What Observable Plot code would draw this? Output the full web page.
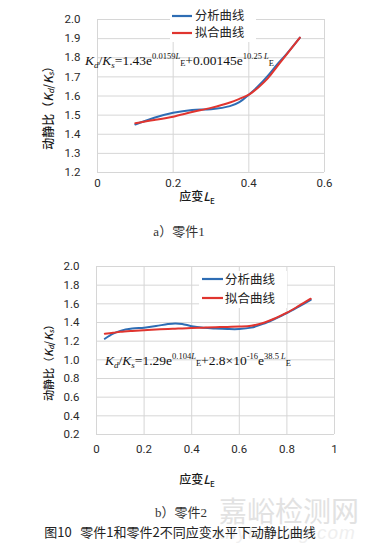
<!DOCTYPE html>
<html><head><meta charset="utf-8">
<script src="https://cdn.jsdelivr.net/npm/d3@7"></script>
<script src="https://cdn.jsdelivr.net/npm/@observablehq/plot@0.6"></script>
<style>
body{margin:0;width:371px;height:553px;position:relative;background:#fff;overflow:hidden;}
.abs{position:absolute;white-space:nowrap;}
.cap{font-family:"Liberation Serif","Noto Sans CJK SC",serif;font-size:13px;color:#333;text-align:center;line-height:16px;}
</style></head>
<body>
<div id="c1" class="abs" style="left:0;top:0"></div>
<div id="c2" class="abs" style="left:0;top:250px"></div>
<div class="abs" style="left:219px;top:492px;font-family:'Noto Sans CJK SC',sans-serif;font-size:28px;line-height:36px;color:#e2e2e2;letter-spacing:0px">嘉峪检测网</div>
<div class="abs" style="left:214px;top:522px;font-family:'Liberation Sans',sans-serif;font-style:italic;font-size:19px;line-height:22px;color:#efefef;letter-spacing:1px">anytesting.com</div>
<div class="abs cap" style="left:0;top:224px;width:358px">a）零件1</div>
<div class="abs cap" style="left:0;top:505px;width:362px">b）零件2</div>
<div class="abs" style="left:0;top:524px;width:360px;text-align:center;font-family:'Noto Sans CJK SC',sans-serif;font-size:13px;line-height:16px;color:#222">图10&nbsp;&nbsp;&nbsp;零件1和零件2不同应变水平下动静比曲线</div>
<script>
// ---------- data ----------
const seriesNames = ["分析曲线", "拟合曲线"];
const seriesColors = ["#2e6db4", "#e0352f"];

// Part 1
const strain1   = [0.1, 0.15, 0.2, 0.25, 0.3, 0.35, 0.375, 0.4, 0.425, 0.45, 0.475, 0.5, 0.535];
const analysis1 = [1.451, 1.486, 1.512, 1.527, 1.531, 1.547, 1.568, 1.607, 1.652, 1.705, 1.765, 1.82, 1.905];
const fit1      = [1.458, 1.474, 1.492, 1.516, 1.538, 1.566, 1.585, 1.607, 1.645, 1.692, 1.755, 1.818, 1.905];
const xTicks1 = [0, 0.2, 0.4, 0.6];
const yTicks1 = [1.2, 1.3, 1.4, 1.5, 1.6, 1.7, 1.8, 1.9, 2.0];

// Part 2
const strain2   = [0.035, 0.07, 0.1, 0.15, 0.2, 0.25, 0.3, 0.33, 0.36, 0.4, 0.45, 0.5, 0.55, 0.6, 0.65, 0.7, 0.75, 0.8, 0.85, 0.9];
const analysis2 = [1.226, 1.28, 1.31, 1.335, 1.345, 1.362, 1.383, 1.39, 1.385, 1.36, 1.343, 1.335, 1.33, 1.33, 1.345, 1.385, 1.44, 1.50, 1.57, 1.643];
const fit2      = [1.28, 1.29, 1.30, 1.31, 1.318, 1.325, 1.33, 1.333, 1.337, 1.34, 1.345, 1.35, 1.353, 1.356, 1.365, 1.395, 1.445, 1.505, 1.578, 1.655];
const xTicks2 = [0, 0.2, 0.4, 0.6, 0.8, 1];
const yTicks2 = [0.2, 0.4, 0.6, 0.8, 1.0, 1.2, 1.4, 1.6, 1.8, 2.0];

function rows(strain, a, f) {
  return [
    ...strain.map((s, i) => ({strain: s, value: a[i], series: seriesNames[0]})),
    ...strain.map((s, i) => ({strain: s, value: f[i], series: seriesNames[1]}))
  ];
}

const tickFont = "Roboto, 'Noto Sans CJK SC', sans-serif";

function makeChart(o) {
  const data = rows(o.strain, o.a, o.f);
  return Plot.plot({
    width: 371, height: o.height,
    marginTop: o.mt, marginBottom: o.mb, marginLeft: o.ml, marginRight: o.mr,
    style: {fontFamily: tickFont, fontSize: "11.5px", color: "#2a2a2a", background: "transparent", overflow: "visible"},
    x: {domain: o.xDomain},
    y: {domain: o.yDomain},
    color: {domain: seriesNames, range: seriesColors},
    marks: [
      Plot.gridX(o.xTicks, {stroke: "#d6d6d6", strokeOpacity: 1, strokeWidth: 1}),
      Plot.gridY(o.yTicks, {stroke: "#d6d6d6", strokeOpacity: 1, strokeWidth: 1}),
      Plot.axisX(o.xTicks, {tickSize: 0, tickPadding: o.xPad, label: null, tickFormat: d => String(d), style: {letterSpacing: "1.2px"}}),
      Plot.axisY(o.yTicks, {tickSize: 0, tickPadding: 17, label: null, tickFormat: d3.format(".1f"), style: {letterSpacing: "1.2px"}}),
      Plot.line(data.filter(d => d.series === seriesNames[0]), {x: "strain", y: "value", stroke: "series", strokeWidth: 2, curve: "catmull-rom"}),
      Plot.line(data.filter(d => d.series === seriesNames[1]), {x: "strain", y: "value", stroke: "series", strokeWidth: 2, curve: "catmull-rom"})
    ]
  });
}

function addText(svg, x, y, parts, attrs) {
  const t = svg.append("text").attr("x", x).attr("y", y).attr("text-anchor", "start").style("letter-spacing", "0px");
  for (const k in attrs) t.attr(k, attrs[k]);
  for (const p of parts) {
    const s = t.append("tspan").text(p.t);
    if (p.it) s.attr("font-style", "italic");
    if (p.fs) s.attr("font-size", p.fs);
    if (p.dy) s.attr("dy", p.dy);
  }
  return t;
}

function legend(svg, box, x0, x1, tx, ys, fs) {
  const g = svg.append("g");
  g.append("rect").attr("x", box[0]).attr("y", box[1]).attr("width", box[2]).attr("height", box[3]).attr("fill", "#fff").attr("stroke", "none");
  seriesNames.forEach((n, i) => {
    g.append("path").attr("d", `M${x0},${ys[i]}H${x1}`)
      .attr("fill", "none").attr("stroke", seriesColors[i]).attr("stroke-width", 2.2);
    g.append("text").attr("x", tx).attr("y", ys[i]).attr("dy", "0.36em").attr("text-anchor", "start")
      .attr("font-family", "'Noto Sans CJK SC', sans-serif").attr("font-size", fs).attr("fill", "#222").text(n);
  });
}

function yTitle(svg, cx, cy, fs) {
  addText(svg, 0, 0, [
    {t: "动静比（"},
    {t: "K", it: 1},
    {t: "d", it: 1, fs: fs * 0.65, dy: 2},
    {t: "/", dy: -2},
    {t: "K", it: 1},
    {t: "s", it: 1, fs: fs * 0.65, dy: 2},
    {t: "）", dy: -2}
  ], {transform: `translate(${cx},${cy}) rotate(-90)`, "text-anchor": "middle", "dominant-baseline": "middle",
      "font-family": "'Noto Sans CJK SC', sans-serif", "font-size": fs, "font-weight": 500, fill: "#1a1a1a"});
}

function xTitle(svg, cx, y) {
  addText(svg, cx, y, [
    {t: "应变"},
    {t: "L", it: 1},
    {t: "E", fs: 8, dy: 3}
  ], {"text-anchor": "middle", "font-family": "'Noto Sans CJK SC', sans-serif", "font-size": 12, "font-weight": 500, fill: "#1a1a1a"});
}

const eqAttrs = {"font-family": "'Liberation Serif', 'Times New Roman', serif", "font-size": 13.5, fill: "#111"};

// ---------- chart 1 ----------
const p1 = makeChart({strain: strain1, a: analysis1, f: fit1, height: 210, mt: 19, mb: 38, ml: 97, mr: 47,
  xDomain: [0, 0.6], yDomain: [1.2, 2.0], xTicks: xTicks1, yTicks: yTicks1, xPad: 6});
document.getElementById("c1").appendChild(p1);
{
  const svg = d3.select(p1);
  legend(svg, [170, 5, 86, 37], 172, 192, 195, [16, 33], 12.3);
  yTitle(svg, 50, 105, 12);
  xTitle(svg, 197, 201);
  addText(svg, 85, 65, [
    {t: "K", it: 1}, {t: "d", it: 1, fs: 9, dy: 3}, {t: "/", dy: -3},
    {t: "K", it: 1}, {t: "s", it: 1, fs: 9, dy: 3}, {t: "=1.43e", dy: -3},
    {t: "0.0159", fs: 8.5, dy: -6}, {t: "L", it: 1, fs: 8.5}, {t: "E", fs: 8.5, dy: 7},
    {t: "+0.00145e", dy: -1},
    {t: "10.25 ", fs: 8.5, dy: -6}, {t: "L", it: 1, fs: 8.5}, {t: "E", fs: 8.5, dy: 7}
  ], eqAttrs);
}

// ---------- chart 2 ----------
const p2 = makeChart({strain: strain2, a: analysis2, f: fit2, height: 240, mt: 16, mb: 56, ml: 96, mr: 37,
  xDomain: [0, 1], yDomain: [0.2, 2.0], xTicks: xTicks2, yTicks: yTicks2, xPad: 10});
document.getElementById("c2").appendChild(p2);
{
  const svg = d3.select(p2);
  legend(svg, [199, 21, 88, 37], 202, 223, 225, [29, 48], 12.5);
  yTitle(svg, 50, 110, 11);
  xTitle(svg, 197, 234);
  addText(svg, 105, 115, [
    {t: "K", it: 1}, {t: "d", it: 1, fs: 9, dy: 3}, {t: "/", dy: -3},
    {t: "K", it: 1}, {t: "s", it: 1, fs: 9, dy: 3}, {t: "=1.29e", dy: -3},
    {t: "0.104", fs: 8.5, dy: -6}, {t: "L", it: 1, fs: 8.5}, {t: "E", fs: 8.5, dy: 7},
    {t: "+2.8×10", dy: -1},
    {t: "-16", fs: 8.5, dy: -6}, {t: "e", dy: 6},
    {t: "38.5 ", fs: 8.5, dy: -6}, {t: "L", it: 1, fs: 8.5}, {t: "E", fs: 8.5, dy: 7}
  ], eqAttrs);
}
</script>
</body></html>
